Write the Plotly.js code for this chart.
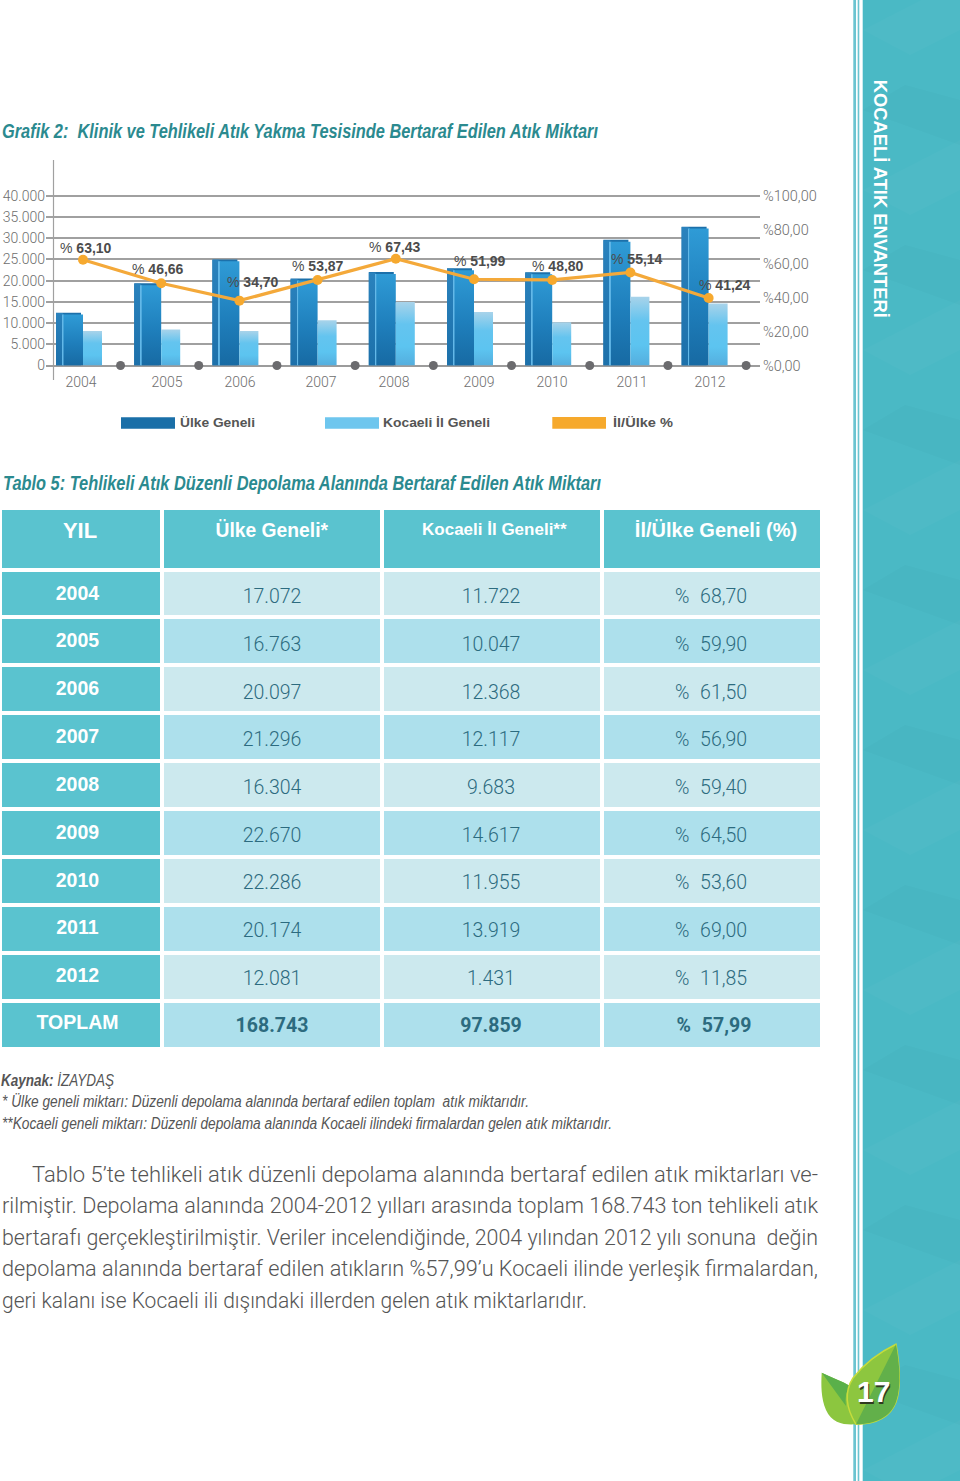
<!DOCTYPE html>
<html>
<head>
<meta charset="utf-8">
<script src="https://cdn.plot.ly/plotly-3.0.1.min.js"></script>
<style>
html, body { margin: 0; padding: 0; background: #fff; }
#chart { width: 960px; height: 1481px; }
</style>
</head>
<body>
<div id="chart"></div>
<script>
// grafik 2
const years = [2004, 2005, 2006, 2007, 2008, 2009, 2010, 2011, 2012];
const ulke_values = [12440, 19360, 25000, 20500, 22000, 22900, 21950, 29600, 32700];
const kocaeli_values = [8100, 8500, 8100, 10650, 14960, 12600, 10200, 16200, 14600];
const oran_values = [62.3, 48.4, 38.2, 50.4, 62.9, 50.8, 50.4, 54.8, 39.8];
const oran_labels = ["63,10", "46,66", "34,70", "53,87", "67,43", "51,99", "48,80", "55,14", "41,24"];
const left_ticks = [0, 5000, 10000, 15000, 20000, 25000, 30000, 35000, 40000];
const left_labels = ["0", "5.000", "10.000", "15.000", "20.000", "25.000", "30.000", "35.000", "40.000"];
const right_ticks = [0, 20, 40, 60, 80, 100];
const right_labels = ["%0,00", "%20,00", "%40,00", "%60,00", "%80,00", "%100,00"];

// tablo 5
const table_head = ["YIL", "Ülke Geneli*", "Kocaeli İl Geneli**", "İl/Ülke Geneli (%)"];
const table_years = ["2004", "2005", "2006", "2007", "2008", "2009", "2010", "2011", "2012", "TOPLAM"];
const table_ulke = ["17.072", "16.763", "20.097", "21.296", "16.304", "22.670", "22.286", "20.174", "12.081", "<b>168.743</b>"];
const table_kocaeli = ["11.722", "10.047", "12.368", "12.117", "9.683", "14.617", "11.955", "13.919", "1.431", "<b>97.859</b>"];
const table_oran = ["% 68,70", "% 59,90", "% 61,50", "% 56,90", "% 59,40", "% 64,50", "% 53,60", "% 69,00", "% 11,85", "<b>% 57,99</b>"];

const W = 960, H = 1481;
const year_px = 78.2;           // px between two years on the x axis
const px = n => n / year_px;    // px -> x axis units
const zero_y = 365.5, top_y = 160;
const left_scale = 4.245 / 1000, right_scale = 1.698;

const light = "Roboto, 'Liberation Sans', sans-serif";
const sans = "'Liberation Sans', Arial, sans-serif";

const toX = x => x / W;
const toY = y => 1 - y / H;
const pxPath = s => s.replace(/(-?[\d.]+) (-?[\d.]+)/g, (m, x, y) => toX(+x) + " " + toY(+y));

let annotations = [];
let fit_list = [];   // [annotation index, width px, left anchored]

function rect(x0, y0, x1, y1, color, layer) {
    return {type: "rect", xref: "paper", yref: "paper", x0: toX(x0), x1: toX(x1), y0: toY(y0), y1: toY(y1),
            fillcolor: color, line: {width: 0}, layer: layer || "below"};
}

function poly(path, color, layer, line) {
    return {type: "path", xref: "paper", yref: "paper", path: pxPath(path), fillcolor: color,
            line: line || {width: 0}, layer: layer || "below"};
}

function note(x, y, text, font, width, extra) {
    let a = Object.assign({xref: "paper", yref: "paper", x: toX(x), y: toY(y), text: text, showarrow: false,
            xanchor: "left", yanchor: "middle", borderpad: 0, borderwidth: 0, font: font}, extra || {});
    annotations.push(a);
    if (width) fit_list.push([annotations.length - 1, width, a.xanchor == "left"]);
}

function barTrace(name, values, width, offset, color) {
    return {type: "bar", name: name, x: years, y: values, width: px(width), offset: px(offset),
            marker: {color: color, line: {width: 0}}, hoverinfo: "skip", showlegend: false};
}

function paintGraph() {
    const front_values = ulke_values.map(v => v - 450);
    const traces = [
        barTrace("cap", ulke_values, 25, -27, "#1c70aa"),
        barTrace("side", ulke_values.map(v => v - 100), 7, -27, "#2479b4"),
        barTrace("strip", front_values, 1.5, -20.5, "#63b8e8"),
        barTrace("front", front_values, 19.5, -19.5, "#2488c4"),
        barTrace("kocaeli", kocaeli_values, 19, 0, "#5cc4f0"),
        {type: "scatter", mode: "markers", x: years.map(y => y + 0.48), y: years.map(() => 0),
         marker: {color: "#6b6b6e", size: 9}, cliponaxis: false, hoverinfo: "skip", showlegend: false},
        {type: "scatter", mode: "lines+markers", x: years, y: oran_values, yaxis: "y2",
         line: {color: "#f4a93a", width: 3.2}, marker: {color: "#f6a92f", size: 10},
         cliponaxis: false, hoverinfo: "skip", showlegend: false}
    ];

    const row_fill = table_years.map((_, i) => i % 2 ? "#ade0ec" : "#cce9ee");
    const head_fill = "#5ac3cf";
    const row_size = table_years.map(() => 19.5);
    traces.push({
        type: "table",
        domain: {x: [0, 822 / W], y: [toY(1052), toY(508)]},
        columnwidth: [162, 220, 220, 220],
        header: {
            values: table_head.map(h => "<b>" + h + "</b>"),
            height: 61.5,
            align: "center",
            fill: {color: head_fill},
            line: {color: "#fff", width: 4},
            font: {family: sans, color: "#fff", size: [22, 19.3, 17, 20]}
        },
        cells: {
            values: [table_years.map(y => "<b>" + y + "</b>"), table_ulke, table_kocaeli, table_oran],
            height: 47.95,
            align: "center",
            fill: {color: [table_years.map(() => head_fill), row_fill, row_fill, row_fill]},
            line: {color: "#fff", width: 4},
            font: {family: [sans, light, light, light], color: ["#fff", "#2c6b7f", "#2c6b7f", "#2c6b7f"], size: [row_size, row_size, row_size, row_size], weight: [400, 300, 300, 300]}
        }
    });

    // sag panel
    const shapes = [
        rect(853.3, 0, 856, H, "#6cc4d0"),
        rect(857.7, 0, 859.3, H, "#6cc4d0"),
        rect(862.7, 0, W, H, "#4ab9c5")
    ];
    for (let y = -30; y < H; y += 160) {
        shapes.push(poly(`M862.7 ${y + 60} L960 ${y + 10} L960 ${y + 60} L910 ${y + 85} Z`, "rgba(255,255,255,0.022)"));
        shapes.push(poly(`M862.7 ${y + 140} L960 ${y + 175} L960 ${y + 130} L905 ${y + 115} Z`, "rgba(0,90,100,0.022)"));
    }

    // eksen cizgisi, lejant
    shapes.push({type: "line", xref: "paper", yref: "paper", x0: toX(53.5), x1: toX(53.5), y0: toY(160), y1: toY(380),
                 line: {color: "#a0a0a0", width: 1.2}, layer: "below"});
    shapes.push(rect(121, 417.3, 175, 428.7, "#1a6fa8"));
    shapes.push(rect(325, 417.3, 379, 428.7, "#6ec6ee"));
    shapes.push(rect(552.3, 417, 606, 428.7, "#f6a92c"));

    // yaprak
    const leaf_left = "M821.7 1372.7 C832 1378 842 1381 850 1386 C852 1400 855 1412 856 1424.3 C845 1425 832 1424 826 1410 C821 1398 821 1385 821.7 1372.7 Z";
    const leaf_left_dark = "M821.7 1372.7 C832 1378 842 1381 850 1386 C846 1392 845 1398 846 1406 Z";
    const leaf_right = "M896 1344.3 C899 1362 902 1385 896 1402 C890 1418 875 1424 856 1424.3 C846 1408 844 1392 853 1378 C864 1364 880 1352 896 1344.3 Z";
    const leaf_right_dark = "M896 1344.3 C899 1362 902 1385 896 1402 C890 1418 875 1424 856 1424.3 Z";
    shapes.push(poly(leaf_left, "#8cc63f", "above"));
    shapes.push(poly(leaf_left_dark, "#5ab04a", "above"));
    shapes.push(poly(leaf_right, "#8dc63f", "above", {color: "#c6dc3c", width: 1.5}));
    shapes.push(poly(leaf_right_dark, "#62b04a", "above"));

    const title_font = {size: 20, color: "#2b8a8f", family: sans};
    const legend_font = {size: 13.5, color: "#555", family: sans};
    const note_font = {size: 16, color: "#555", family: sans};
    const body_font = {size: 21.5, color: "#555", family: light, weight: 300};

    note(2, 131, "<b><i>Grafik 2:  Klinik ve Tehlikeli Atık Yakma Tesisinde Bertaraf Edilen Atık Miktarı</i></b>", title_font, 596);
    note(3, 483, "<b><i>Tablo 5: Tehlikeli Atık Düzenli Depolama Alanında Bertaraf Edilen Atık Miktarı</i></b>", title_font, 598);
    note(180, 423, "<b>Ülke Geneli</b>", legend_font, 75);
    note(383, 423, "<b>Kocaeli İl Geneli</b>", legend_font, 107);
    note(613, 423, "<b>İl/Ülke %</b>", legend_font, 60);
    note(1, 1080, "<b><i>Kaynak:</i></b> <i>İZAYDAŞ</i>", note_font, 113);
    note(2, 1101, "<i>* Ülke geneli miktarı: Düzenli depolama alanında bertaraf edilen toplam  atık miktarıdır.</i>", note_font, 527);
    note(2, 1123, "<i>**Kocaeli geneli miktarı: Düzenli depolama alanında Kocaeli ilindeki firmalardan gelen atık miktarıdır.</i>", note_font, 610);
    note(32, 1174, "Tablo 5’te tehlikeli atık düzenli depolama alanında bertaraf edilen atık miktarları ve-", body_font, 786);
    note(2, 1205, "rilmiştir. Depolama alanında 2004-2012 yılları arasında toplam 168.743 ton tehlikeli atık", body_font, 816);
    note(2, 1237, "bertarafı gerçekleştirilmiştir. Veriler incelendiğinde, 2004 yılından 2012 yılı sonuna  değin", body_font, 816);
    note(2, 1268, "depolama alanında bertaraf edilen atıkların %57,99’u Kocaeli ilinde yerleşik firmalardan,", body_font, 816);
    note(2, 1300, "geri kalanı ise Kocaeli ili dışındaki illerden gelen atık miktarlarıdır.", body_font, 585);
    note(880, 199, "<b>KOCAELİ ATIK ENVANTERİ</b>", {size: 18, color: "#fff", family: sans}, 238, {xanchor: "center", textangle: 90});
    note(873, 1391, "<b>17</b>", {size: 30, color: "#fff", family: sans, shadow: "1px 2px 0 #2f3a20"}, 0, {xanchor: "center"});

    // yuzde etiketleri
    const label_dx = [3, -3, 13.6, 0.4, -1, 6, 6, 6.6, 16.4];
    const label_dy = [12, 14, 19, 14, 12, 18, 14, 13.5, 13];
    oran_labels.forEach((t, i) => {
        annotations.push({xref: "x", yref: "y2", x: years[i], y: oran_values[i], xshift: label_dx[i], yshift: label_dy[i],
            text: "% <b>" + t + "</b>", showarrow: false, xanchor: "center", yanchor: "middle",
            font: {size: 14, color: "#4c4c4c", family: sans}});
    });

    // yil etiketleri resimde tam esit aralikli degil
    const tick_dx = [-2, 5.8, 0.6, 3.4, -1.8, 5, -0.2, 1.6, 1.4];
    const tick_font = {family: light, size: 14, color: "#6e6e6e", weight: 300};

    const layout = {
        width: W,
        height: H,
        margin: {l: 0, r: 0, t: 0, b: 0, pad: 0},
        paper_bgcolor: "#fff",
        plot_bgcolor: "rgba(0,0,0,0)",
        showlegend: false,
        barmode: "overlay",
        shapes: shapes,
        annotations: annotations,
        xaxis: {
            domain: [toX(46), toX(760)],
            range: [2004 - px(37), 2004 + px(677)],
            tickmode: "array",
            tickvals: years.map((y, i) => y + px(tick_dx[i])),
            ticktext: years.map(String),
            ticks: "",
            ticklabelstandoff: 6,
            showgrid: false,
            zeroline: false,
            showline: false,
            tickfont: tick_font
        },
        yaxis: {
            domain: [toY(zero_y), toY(top_y)],
            range: [0, (zero_y - top_y) / left_scale],
            tickmode: "array",
            tickvals: left_ticks,
            ticktext: left_labels,
            ticks: "",
            ticklabelstandoff: 0,
            showgrid: true,
            gridcolor: "#a0a0a0",
            gridwidth: 1.6,
            zeroline: true,
            zerolinecolor: "#9c9c9c",
            zerolinewidth: 1.6,
            showline: false,
            tickfont: tick_font
        },
        yaxis2: {
            domain: [toY(zero_y), toY(top_y)],
            overlaying: "y",
            side: "right",
            range: [0, (zero_y - top_y) / right_scale],
            tickmode: "array",
            tickvals: right_ticks,
            ticktext: right_labels,
            ticks: "",
            ticklabelstandoff: 2,
            ticklabelshift: -1.5,
            showgrid: false,
            zeroline: false,
            showline: false,
            tickfont: Object.assign({}, tick_font, {size: 14.5})
        }
    };

    return Plotly.newPlot("chart", traces, layout, {displayModeBar: false, responsive: false});
}

// plotly bar icin gradient vermiyor, cizimden sonra ekliyoruz
function addGradient(svg, id, stops) {
    const ns = "http://www.w3.org/2000/svg";
    let defs = svg.querySelector("defs");
    let grad = document.createElementNS(ns, "linearGradient");
    grad.setAttribute("id", id);
    grad.setAttribute("x1", "0");
    grad.setAttribute("y1", "0");
    grad.setAttribute("x2", "0");
    grad.setAttribute("y2", "1");
    stops.forEach(s => {
        let stop = document.createElementNS(ns, "stop");
        stop.setAttribute("offset", s[0]);
        stop.setAttribute("stop-color", s[1]);
        grad.appendChild(stop);
    });
    defs.appendChild(grad);
}

function paintBars() {
    const svg = document.querySelector("#chart .main-svg");
    addGradient(svg, "grad-front", [[0, "#2f9bd6"], [0.55, "#1f7fbc"], [1, "#176aa3"]]);
    addGradient(svg, "grad-side", [[0, "#2a82bd"], [1, "#1c70aa"]]);
    addGradient(svg, "grad-light", [[0, "#a8d3ea"], [0.35, "#64c4ef"], [0.7, "#5cc4f0"], [1, "#54aede"]]);
    const fills = {1: "grad-side", 3: "grad-front", 4: "grad-light"};
    const bar_traces = document.querySelectorAll("#chart .barlayer .trace");
    bar_traces.forEach((t, i) => {
        if (!fills[i]) return;
        t.querySelectorAll("path").forEach(p => { p.style.fill = "url(#" + fills[i] + ")"; });
    });
}

// metinleri resimdeki genisliklere sigdir (dar yazi tipi yok)
function fitTexts() {
    fit_list.forEach(f => {
        let text = document.querySelector('#chart .annotation[data-index="' + f[0] + '"] text');
        if (!text) return;
        let old_len = text.getComputedTextLength();
        if (f[2]) text.setAttribute("x", parseFloat(text.getAttribute("x") || 0) + (f[1] - old_len) / 2);
        text.setAttribute("textLength", f[1]);
        text.setAttribute("lengthAdjust", "spacingAndGlyphs");
    });
}

// tablo yazilari hucrenin ustune yapisiyor, yerine al
function moveCellTexts() {
    const head_dy = [2, 3, 4, 3];
    const head_dx = [-1, 0, 2.5, 4];
    const cell_dx = [-3.5, 0, -1, -1];
    document.querySelectorAll("#chart .table .y-column").forEach((col, c) => {
        col.querySelectorAll(".column-cell").forEach(cell => {
            let text = cell.querySelector(".cell-text");
            if (!text) return;
            let block = cell.closest(".column-block");
            let is_head = block && block.__data__ && block.__data__.type == "header";
            let row = cell.__data__ ? cell.__data__.rowNumber : 0;
            let dy;
            if (is_head) dy = head_dy[c];
            else if (row == 9) dy = c == 0 ? 2 : 5;
            else dy = c == 0 ? 4 - row * 0.1 : 11 - row * 0.25;
            let dx = is_head ? head_dx[c] : cell_dx[c];
            // son sutunda % ile sayi arasi daha genis
            if (!is_head && c == 3) text.style.wordSpacing = "6px";
            text.setAttribute("y", parseFloat(text.getAttribute("y") || 0) + dy);
            text.setAttribute("x", parseFloat(text.getAttribute("x") || 0) + dx);
            text.querySelectorAll("tspan").forEach(t => {
                if (t.hasAttribute("y")) t.setAttribute("y", parseFloat(t.getAttribute("y")) + dy);
                if (t.hasAttribute("x")) t.setAttribute("x", parseFloat(t.getAttribute("x")) + dx);
            });
        });
    });
}

paintGraph().then(() => {
    paintBars();
    fitTexts();
    moveCellTexts();
});
</script>
</body>
</html>
